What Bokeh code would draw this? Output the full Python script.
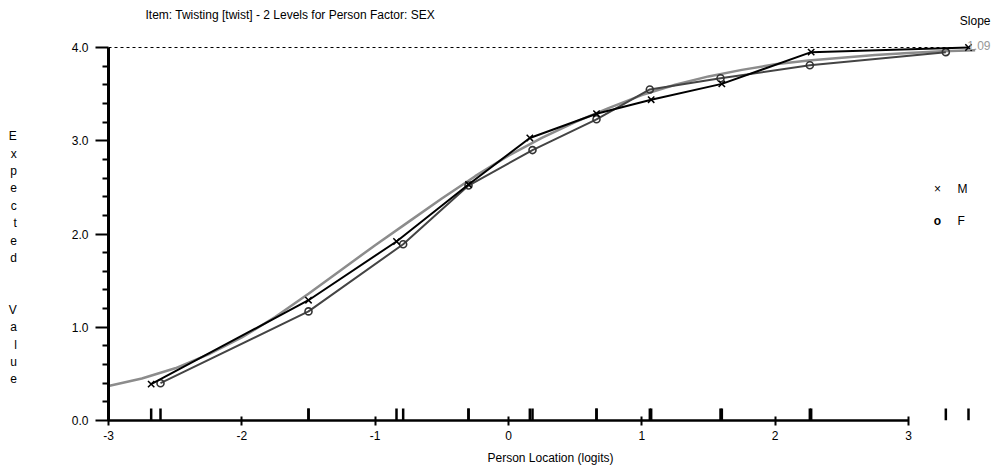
from bokeh.plotting import figure
from bokeh.models import Range1d, FixedTicker, PrintfTickFormatter, Label
from bokeh.embed import file_html
from bokeh.resources import INLINE

# ---------------- data ----------------
title_text = "Item: Twisting [twist] - 2 Levels for Person Factor: SEX"
x_label = "Person Location (logits)"
y_label = "Expected Value"
slope_title = "Slope"
slope_value = "1.09"
x_ticks = [-3, -2, -1, 0, 1, 2, 3]
x_tick_labels = ["-3", "-2", "-1", "0", "1", "2", "3"]
y_ticks = [0.0, 1.0, 2.0, 3.0, 4.0]
y_minor = [0.2, 0.4, 0.6, 0.8, 1.2, 1.4, 1.6, 1.8, 2.2, 2.4, 2.6, 2.8, 3.2, 3.4, 3.6, 3.8]

# expected (model) curve
curve_x = [-3.0, -2.75, -2.5, -2.25, -2.0, -1.75, -1.5, -1.25, -1.0, -0.75, -0.5, -0.25,
           0.0, 0.25, 0.5, 0.75, 1.0, 1.25, 1.5, 1.75, 2.0, 2.25, 2.5, 2.75, 3.0, 3.25, 3.5]
curve_y = [0.37, 0.45, 0.56, 0.71, 0.89, 1.11, 1.36, 1.62, 1.88, 2.13, 2.38, 2.62,
           2.84, 3.03, 3.20, 3.35, 3.49, 3.60, 3.69, 3.76, 3.82, 3.86, 3.89, 3.92, 3.94, 3.96, 3.97]

# observed class-interval means
m_label = "M"
m_x = [-2.68, -1.50, -0.84, -0.30, 0.16, 0.66, 1.07, 1.60, 2.27, 3.45]
m_y = [0.39, 1.29, 1.92, 2.53, 3.03, 3.29, 3.44, 3.61, 3.95, 4.00]
f_label = "F"
f_x = [-2.61, -1.50, -0.79, -0.30, 0.18, 0.66, 1.06, 1.59, 2.26, 3.28]
f_y = [0.40, 1.17, 1.89, 2.52, 2.90, 3.23, 3.55, 3.67, 3.81, 3.95]

# ---------------- layout helpers ----------------
X0_PX, X_PER = 108.0, 800.0 / 6.0      # canvas px of x=-3, px per logit
Y0_PX, Y_PER = 420.0, 93.25            # canvas px of y=0, px per unit


def dx(px):
    return -3.0 + (px - X0_PX) / X_PER


def dy(py):
    return (Y0_PX - py) / Y_PER


W, H = 992, 468
p = figure(width=W, height=H, output_backend="svg", toolbar_location=None,
           x_range=Range1d(dx(108), dx(992)), y_range=Range1d(dy(420), dy(8)),
           min_border_left=108, min_border_right=0, min_border_top=8,
           min_border_bottom=48, background_fill_color="white",
           border_fill_color="white")
p.outline_line_color = None
p.grid.visible = False
font = "Liberation Sans"

# axes
ax = p.xaxis[0]
ax.ticker = FixedTicker(ticks=x_ticks)
ax.major_label_overrides = {t: s for t, s in zip(x_ticks, x_tick_labels)}
ax.bounds = (-3, 3)
ax.axis_line_width = 2.5
ax.axis_line_color = "black"
ax.major_tick_line_width = 2
ax.major_tick_in = 4
ax.major_tick_out = 5
ax.minor_tick_line_color = None
ax.major_label_standoff = 5
ax.major_label_text_font = font
ax.major_label_text_font_size = "12px"
ax.major_label_text_color = "black"
ax.axis_label = x_label
ax.axis_label_standoff = 8
ax.axis_label_text_font = font
ax.axis_label_text_font_size = "12px"
ax.axis_label_text_font_style = "normal"
ax.axis_label_text_color = "black"

ay = p.yaxis[0]
ay.ticker = FixedTicker(ticks=y_ticks, minor_ticks=y_minor)
ay.formatter = PrintfTickFormatter(format="%.1f")
ay.bounds = (0, 4)
ay.axis_line_width = 3
ay.axis_line_color = "black"
ay.major_tick_line_width = 2
ay.major_tick_in = 0
ay.major_tick_out = 13
ay.minor_tick_line_width = 2
ay.minor_tick_in = 0
ay.minor_tick_out = 6
ay.major_label_standoff = 7
ay.major_label_text_font = font
ay.major_label_text_font_size = "12px"
ay.major_label_text_color = "black"
# stacked vertical y label: one letter per line, wide gap between words;
# leading blank lines push the block down (label is centred on the frame)
stack = [" "] * 5 + list(y_label.replace(" ", "  "))
ay.axis_label = "\n".join(c if c.strip() else " " for c in stack)
ay.axis_label_orientation = "horizontal"
ay.axis_label_standoff = 52
ay.axis_label_text_font = font
ay.axis_label_text_font_size = "12px"
ay.axis_label_text_font_style = "normal"
ay.axis_label_text_color = "black"
ay.axis_label_text_line_height = 1.24
ay.axis_label_text_align = "center"

# dashed top reference line
p.segment(x0=[-3.0], y0=[4.0], x1=[dx(965)], y1=[4.0], line_color="black",
          line_width=1, line_dash="3 3")

# rug of class-interval locations
rug_x = m_x + f_x
p.segment(x0=rug_x, y0=[0.0] * len(rug_x), x1=rug_x, y1=[dy(408)] * len(rug_x),
          line_color="black", line_width=2.5)

# expected curve
p.line(curve_x, curve_y, line_color="#8c8c8c", line_width=2.5)

# observed lines
p.line(f_x, f_y, line_color="#444444", line_width=2)
p.scatter(f_x, f_y, marker="circle", size=7, fill_color=None,
          line_color="#333333", line_width=1.6)
p.line(m_x, m_y, line_color="black", line_width=2)
p.scatter(m_x, m_y, marker="x", size=9, line_color="black", line_width=1.5)


def lab(x, y, text, align="left", color="black", style="normal", size="12px"):
    p.add_layout(Label(x=x, y=y, text=text, text_font=font, text_font_size=size,
                       text_color=color, text_font_style=style,
                       text_baseline="middle", text_align=align))


# legend
lab(dx(937), dy(188), "\u00d7", align="center")
lab(dx(957), dy(188), m_label)
lab(dx(937), dy(220), "o", align="center", style="bold")
lab(dx(957), dy(220), f_label)

# texts
lab(dx(145), dy(14), title_text)
lab(dx(990), dy(20), slope_title, align="right")
lab(dx(990), dy(45), slope_value, align="right", color="#999999")

open("out.html", "w").write(file_html(p, INLINE))
